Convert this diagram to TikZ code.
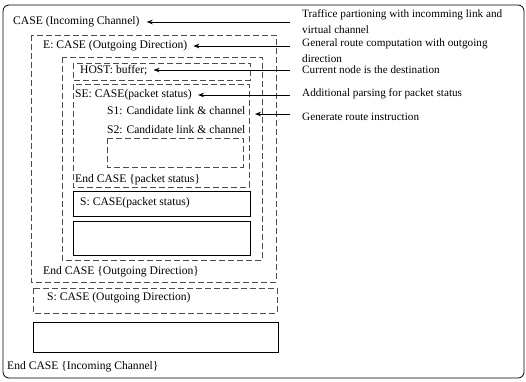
\documentclass[tikz,border=0pt]{standalone}
\usepackage{fontspec}
\setmainfont{Liberation Serif}
\usetikzlibrary{arrows.meta}
\begin{document}
\begin{tikzpicture}[x=1pt,y=-1pt,
  txt/.style={anchor=west,inner sep=0pt,font=\fontsize{11.6}{13}\selectfont},
  lbl/.style={anchor=west,inner sep=0pt,align=left,font=\fontsize{11.2}{16.5}\selectfont},
  dbox/.style={draw=black!70,line width=0.5pt,dash pattern=on 6pt off 3pt},
  sbox/.style={draw,line width=0.7pt},
  arr/.style={line width=0.8pt,-{Stealth[length=6pt,width=4.5pt]}}]
\useasboundingbox (0,0) rectangle (526,381);
% outer frame
\draw[line width=0.8pt,rounded corners=6pt] (3,5) rectangle (524,378);
% boxes
\draw[dbox] (31,35) rectangle (276,282);
\draw[dbox] (62,57) rectangle (262,260);
\draw[dbox] (73,63) rectangle (250,80);
\draw[dbox] (73,84) rectangle (249,187);
\draw[dbox] (107,138) rectangle (243,167);
\draw[sbox] (73,191) rectangle (250,216);
\draw[sbox] (73,221) rectangle (250,255);
\draw[dbox] (33,288) rectangle (277,313);
\draw[sbox] (33,322) rectangle (278,352);
% left texts
\node[txt] (inc) at (13,22) {CASE (Incoming Channel)};
\node[txt] (eo) at (43,46) {E: CASE (Outgoing Direction)};
\node[txt] (host) at (80,70) {HOST: buffer;};
\node[txt] (se) at (75,95) {SE: CASE(packet status)};
\node[txt] (s1) at (107,111) {S1: Candidate link \& channel};
\node[txt] (s2) at (107,130) {S2: Candidate link \& channel};
\node[txt] (endps) at (75,180) {End CASE \{packet status\}};
\node[txt] (sps) at (80,203) {S: CASE(packet status)};
\node[txt] (endod) at (43,272) {End CASE \{Outgoing Direction\}};
\node[txt] (sod) at (47,298) {S: CASE (Outgoing Direction)};
\node[txt] (endic) at (7,367) {End CASE \{Incoming Channel\}};
% right labels
\node[lbl] (l1) at (302,21.5) {Traffice partioning with incomming link and\\virtual channel};
\node[lbl,font=\fontsize{11.2}{16}\selectfont] (l2) at (302,51) {General route computation with outgoing\\direction};
\node[lbl] (l3) at (302,70) {Current node is the destination};
\node[lbl] (l4) at (302,94) {Additional parsing for packet status};
\node[lbl] (l5) at (302,117) {Generate route instruction};
% arrows
\coordinate (a1) at (290,22);
\coordinate (a2) at (290,46);
\coordinate (a3) at (290,70);
\coordinate (a4) at (290,95);
\coordinate (a5) at (290,114);
\coordinate (g) at (255,114);
\draw[arr] (a1) -- ([xshift=7pt]inc.east);
\draw[arr] (a2) -- ([xshift=6pt]eo.east);
\draw[arr] (a3) -- ([xshift=6pt]host.east);
\draw[arr] (a4) -- ([xshift=6pt]se.east);
\draw[arr] (a5) -- (g);
\end{tikzpicture}
\end{document}
